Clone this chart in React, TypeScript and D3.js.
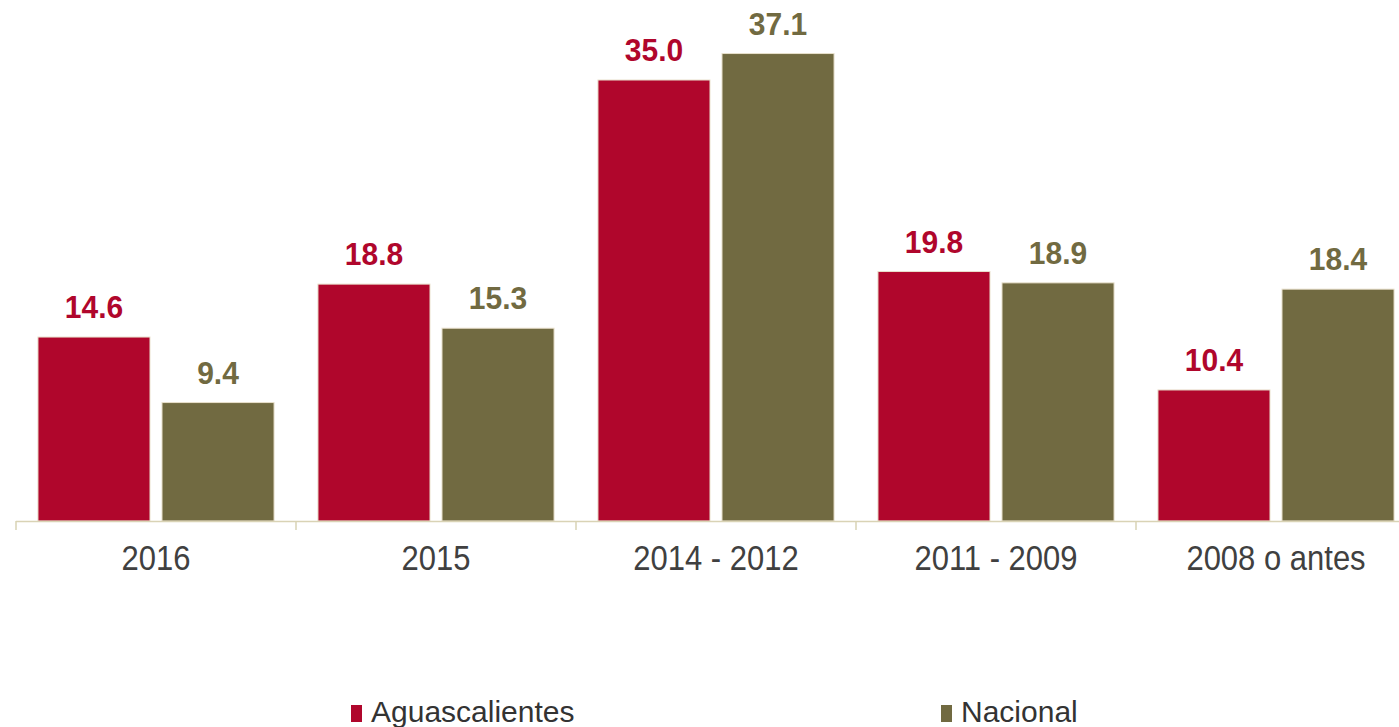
import React from "react";
import * as d3 from "d3";

const categories = ["2016", "2015", "2014 - 2012", "2011 - 2009", "2008 o antes"];
const seriesNames = ["Aguascalientes", "Nacional"];
const aguascalientes = [14.6, 18.8, 35.0, 19.8, 10.4];
const nacional = [9.4, 15.3, 37.1, 18.9, 18.4];
const colors = ["#B0062C", "#716A41"];

const W = 1399;
const H = 727;

export default function App() {
  const baseline = 521;
  const x0 = d3.scaleBand<string>().domain(categories).range([16, 1416]).padding(0);
  const x1 = d3
    .scaleBand<string>()
    .domain(seriesNames)
    .range([0, x0.bandwidth()])
    .paddingInner(0.0968)
    .paddingOuter(0.177);
  const y = d3.scaleLinear().domain([0, 40]).range([baseline, baseline - 504]);
  const values = [aguascalientes, nacional];

  return (
    <svg
      width={W}
      height={H}
      style={{ position: "absolute", left: 0, top: 0, background: "#fff" }}
      fontFamily="'Liberation Sans', Arial, sans-serif"
    >
      {categories.map((c, i) => (
        <g key={c} transform={`translate(${x0(c)},0)`}>
          {seriesNames.map((s, j) => {
            const v = values[j][i];
            const bx = x1(s)!;
            return (
              <g key={s}>
                <rect
                  x={bx}
                  y={y(v)}
                  width={x1.bandwidth()}
                  height={baseline - y(v)}
                  fill={colors[j]}
                  stroke="#e8e0cc"
                  strokeWidth={1}
                />
                <text
                  transform={`translate(${bx + x1.bandwidth() / 2},${y(v) - 19}) scale(1,1.05)`}
                  textAnchor="middle"
                  fontWeight="bold"
                  fontSize={30}
                  fill={colors[j]}
                >
                  {v.toFixed(1)}
                </text>
              </g>
            );
          })}
          <text
            transform={`translate(${x0.bandwidth() / 2},570) scale(1,1.12)`}
            textAnchor="middle"
            fontSize={31}
            fill="#404040"
          >
            {c}
          </text>
        </g>
      ))}
      <line x1={16} x2={W} y1={baseline + 0.5} y2={baseline + 0.5} stroke="#D9D3B5" strokeWidth={1.5} />
      {[...categories.map((c) => x0(c)!), 1416].map((t, i) => (
        <line key={i} x1={t} x2={t} y1={baseline} y2={530} stroke="#D9D3B5" strokeWidth={1.5} />
      ))}
      {seriesNames.map((s, j) => {
        const lx = j === 0 ? 351 : 941;
        return (
          <g key={s}>
            <rect x={lx} y={705} width={11} height={17} fill={colors[j]} />
            <text x={lx + 20} y={722} fontSize={30} fill="#333">
              {s}
            </text>
          </g>
        );
      })}
    </svg>
  );
}
